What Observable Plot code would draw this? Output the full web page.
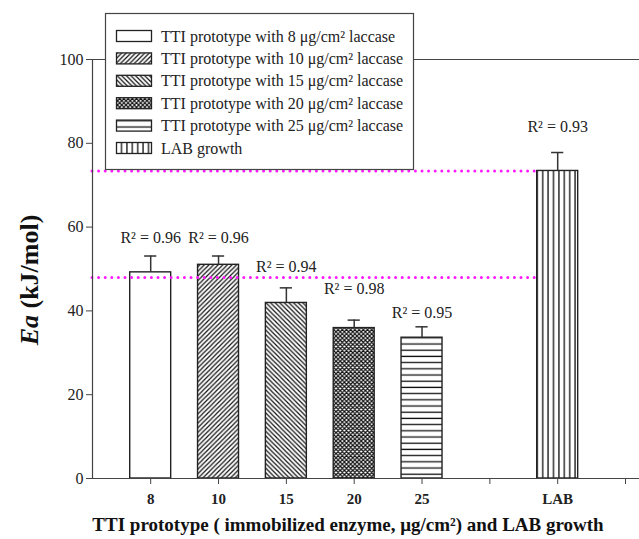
<!DOCTYPE html>
<html><head><meta charset="utf-8">
<script src="https://cdn.jsdelivr.net/npm/d3@7"></script>
<script src="https://cdn.jsdelivr.net/npm/@observablehq/plot@0.6"></script>
<style>body{margin:0;background:#fff} svg{display:block;overflow:visible}</style>
</head><body><div id="chart"></div>
<script>
// ---- data ----
const tickLabels = ["8", "10", "15", "20", "25", "", "LAB", ""];
const barCategories = ["8", "10", "15", "20", "25", "LAB"];
const eaValues = [49.2, 51.0, 41.9, 35.9, 33.6, 73.4];
const eaErrors = [3.9, 2.1, 3.6, 1.9, 2.6, 4.4];
const r2Labels = ["R² = 0.96", "R² = 0.96", "R² = 0.94", "R² = 0.98", "R² = 0.95", "R² = 0.93"];
const r2LabelAt = [57.5, 57.5, 50.6, 45.3, 39.6, 84.0];
const refLineValues = [73.4, 48.0];
const yTicks = [0, 20, 40, 60, 80, 100];
const legendLabels = [
  "TTI prototype with 8 μg/cm² laccase",
  "TTI prototype with 10 μg/cm² laccase",
  "TTI prototype with 15 μg/cm² laccase",
  "TTI prototype with 20 μg/cm² laccase",
  "TTI prototype with 25 μg/cm² laccase",
  "LAB growth"
];
const xTitle = "TTI prototype ( immobilized enzyme, μg/cm²) and LAB growth";

// ---- styles ----
const barFills = ["#ffffff", "url(#pF)", "url(#pB)", "url(#pX)", "url(#pH)", "url(#pV)"];
const serif = "'Liberation Serif', 'Times New Roman', serif";

const bars = barCategories.map((c, i) => ({
  cat: c, x: tickLabels.indexOf(c) + 1, v: eaValues[i], e: eaErrors[i],
  r2: r2Labels[i], ly: r2LabelAt[i], fill: barFills[i]
}));
const half = 0.302, cap = 0.09;
const xDomain = [0.142, 8.206];
const labX = tickLabels.indexOf("LAB") + 1;

const plot = Plot.plot({
  width: 639, height: 539,
  marginLeft: 92, marginRight: 0, marginTop: 59, marginBottom: 61,
  x: {type: "linear", domain: xDomain, axis: null},
  y: {domain: [0, 100], axis: null},
  style: {fontFamily: serif, color: "#222", background: "#fff"},
  marks: [
    Plot.ruleY([100], {x1: xDomain[0], x2: xDomain[1], stroke: "#444", strokeWidth: 1.2}),
    ...bars.map(b => Plot.rectY([b], {x1: d => d.x - half, x2: d => d.x + half, y1: 0, y2: "v",
      fill: b.fill, stroke: "#222", strokeWidth: 1.4})),
    Plot.ruleX(bars, {x: "x", y1: "v", y2: d => d.v + d.e, stroke: "#333", strokeWidth: 1.5}),
    Plot.ruleY(bars, {y: d => d.v + d.e, x1: d => d.x - cap, x2: d => d.x + cap, stroke: "#333", strokeWidth: 1.5}),
    Plot.ruleY(refLineValues, {x1: xDomain[0], x2: labX - half, stroke: "#ff1aff", strokeWidth: 3,
      strokeDasharray: "0 6.6", strokeLinecap: "round"}),
    Plot.text(bars, {x: "x", y: "ly", text: "r2", fontSize: 16, fill: "#222"}),
    Plot.ruleX([xDomain[0]], {y1: 0, y2: 100, stroke: "#444", strokeWidth: 1.2}),
    Plot.ruleY([0], {x1: xDomain[0], x2: xDomain[1], stroke: "#444", strokeWidth: 1.2}),
    Plot.axisY({ticks: yTicks, tickSize: 6, tickPadding: 3, fontSize: 16, stroke: "#444", label: null, x: xDomain[0]}),
    Plot.axisX({ticks: d3.range(1, tickLabels.length + 1), tickFormat: i => tickLabels[i - 1],
      tickSize: 6, tickPadding: 9, fontSize: 15, fontWeight: "bold", stroke: "#444", label: null})
  ]
});
document.getElementById("chart").append(plot);

const svg = d3.select(plot);
const defs = svg.insert("defs", ":first-child");
function pat(id, w, h, d, sw) {
  const p = defs.append("pattern").attr("id", id).attr("patternUnits", "userSpaceOnUse")
    .attr("width", w).attr("height", h);
  p.append("rect").attr("width", w).attr("height", h).attr("fill", "#fff");
  p.append("path").attr("d", d).attr("stroke", "#111").attr("stroke-width", sw).attr("fill", "none");
}
pat("pF", 4.6, 4.6, "M0,4.6 L4.6,0 M-1,1 L1,-1 M3.6,5.6 L5.6,3.6", 1.2);
pat("pB", 4.6, 4.6, "M0,0 L4.6,4.6 M-1,3.6 L1,5.6 M3.6,-1 L5.6,1", 1.2);
pat("pX", 4.2, 4.2, "M0,0 L4.2,4.2 M0,4.2 L4.2,0 M-1,1 L1,-1 M3.2,5.2 L5.2,3.2 M-1,3.2 L1,5.2 M3.2,-1 L5.2,1", 1.2);
pat("pH", 8, 6.2, "M0,3 L8,3", 1.3);
pat("pV", 5.4, 8, "M2.7,0 L2.7,8", 1.3);

// legend
const lg = svg.append("g").attr("font-family", serif).attr("font-size", 16).attr("fill", "#222")
  .attr("text-anchor", "start");
lg.append("rect").attr("x", 105.5).attr("y", 13.5).attr("width", 308).attr("height", 156)
  .attr("fill", "#fff").attr("stroke", "#444").attr("stroke-width", 1.2);
legendLabels.forEach((t, i) => {
  const cy = 36 + i * 22.4;
  lg.append("rect").attr("x", 116.5).attr("y", cy - 5.5).attr("width", 35).attr("height", 11)
    .attr("fill", barFills[i]).attr("stroke", "#222").attr("stroke-width", 1.3);
  lg.append("text").attr("x", 161).attr("y", cy).attr("dy", "0.35em").attr("text-anchor", "start").text(t);
});

// axis titles
svg.append("text").attr("x", 348).attr("y", 531).attr("text-anchor", "middle")
  .attr("font-family", serif).attr("font-size", 19).attr("font-weight", "bold").attr("fill", "#111")
  .text(xTitle);
const yt = svg.append("text").attr("transform", "translate(38,280) rotate(-90)").attr("text-anchor", "middle")
  .attr("font-family", serif).attr("font-size", 26).attr("font-weight", "bold").attr("fill", "#111");
yt.append("tspan").attr("font-style", "italic").text("Ea");
yt.append("tspan").text(" (kJ/mol)");
</script></body></html>
